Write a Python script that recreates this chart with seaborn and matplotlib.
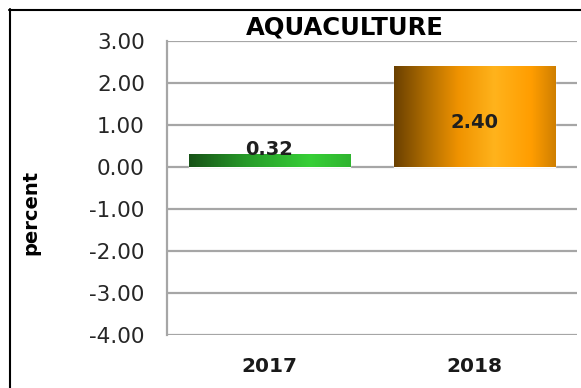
import numpy as np
import matplotlib
matplotlib.use("Agg")
import matplotlib.pyplot as plt
import seaborn as sns
import pandas as pd
from matplotlib.colors import LinearSegmentedColormap
from matplotlib.lines import Line2D

# Aquaculture growth, percent
years = ["2017", "2018"]
growth = [0.32, 2.40]
y_ticks = [-4, -3, -2, -1, 0, 1, 2, 3]
title = "AQUACULTURE"
y_label = "percent"

sns.set_theme(style="white")
plt.rcParams["font.family"] = ["DejaVu Sans"]

W, H = 581, 388
fig = plt.figure(figsize=(W / 100, H / 100), dpi=100)
fig.patch.set_facecolor("white")
ax = fig.add_axes([167 / W, 1 - 335 / H, (577 - 167) / W, (335 - 41) / H])

df = pd.DataFrame({"year": years, "growth": growth})
base_colors = ["#2a9a2a", "#f29500"]
sns.barplot(data=df, x="year", y="growth", hue="year", palette=base_colors,
            legend=False, width=0.79, ax=ax, zorder=3, saturation=1)

# horizontal shaded fills clipped to each bar
grad_maps = [
    LinearSegmentedColormap.from_list("g", [(0, "#175217"), (0.35, "#279a29"),
                                            (0.75, "#37cf37"), (1, "#2fb42f")]),
    LinearSegmentedColormap.from_list("o", [(0, "#6a4000"), (0.2, "#b06d00"),
                                            (0.4, "#f09300"), (0.62, "#ffb31c"),
                                            (0.85, "#ff9d00"), (1, "#cf7f00")]),
]
ramp = np.linspace(0, 1, 256).reshape(1, -1)
for patch, cmap in zip(ax.patches, grad_maps):
    x0, y0 = patch.get_x(), patch.get_y()
    w, h = patch.get_width(), patch.get_height()
    im = ax.imshow(ramp, cmap=cmap, aspect="auto", zorder=3.5,
                   extent=[x0, x0 + w, y0, y0 + h], interpolation="bilinear")
    im.set_clip_path(patch)

ax.set_xlim(-0.5, 1.5)
ax.set_ylim(min(y_ticks), max(y_ticks))
ax.set_yticks(y_ticks)
ax.set_yticklabels([f"{t:.2f}" for t in y_ticks])
ax.set_xlabel("")
ax.set_ylabel("")

grid_c = "#a6a6a6"
ax.yaxis.grid(True, color=grid_c, linewidth=1.6)
ax.set_axisbelow(True)
for side in ["top", "right", "bottom"]:
    ax.spines[side].set_visible(False)
ax.spines["left"].set_color(grid_c)
ax.spines["left"].set_linewidth(1.6)

ax.tick_params(axis="y", length=0, pad=16, labelsize=15.5, labelcolor="#262626")
ax.tick_params(axis="x", length=0, pad=16, labelsize=14.5, labelcolor="#1a1a1a")
for lab in ax.get_xticklabels():
    lab.set_fontweight("bold")

# value labels
label_pos = [("above", growth[0]), ("inside", growth[1])]
for i, (pos, v) in enumerate(label_pos):
    if pos == "above":
        ax.annotate(f"{v:.2f}", (i, v), xytext=(0, 3), textcoords="offset points",
                    ha="center", va="center", color="#1f1f1f", fontsize=14,
                    fontweight="bold", zorder=5)
    else:
        ax.annotate(f"{v:.2f}", (i, v / 2), xytext=(0, -4), textcoords="offset points",
                    ha="center", va="center", color="#1f1f1f", fontsize=14,
                    fontweight="bold", zorder=5)

fig.text(344.5 / W, 1 - 35 / H, title, ha="center", va="baseline",
         fontsize=17.5, fontweight="bold", color="black")
fig.text(31 / W, 1 - 212 / H, y_label, rotation=90, ha="center", va="center",
         fontsize=14, fontweight="bold", color="black")

# frame around the chart
fig.add_artist(Line2D([9 / W, 1], [1 - 9.5 / H, 1 - 9.5 / H], color="black",
                      linewidth=1.5, transform=fig.transFigure))
fig.add_artist(Line2D([9.5 / W, 9.5 / W], [1 - 9 / H, 0], color="black",
                      linewidth=1.5, transform=fig.transFigure))

fig.savefig("out.png", dpi=100)
